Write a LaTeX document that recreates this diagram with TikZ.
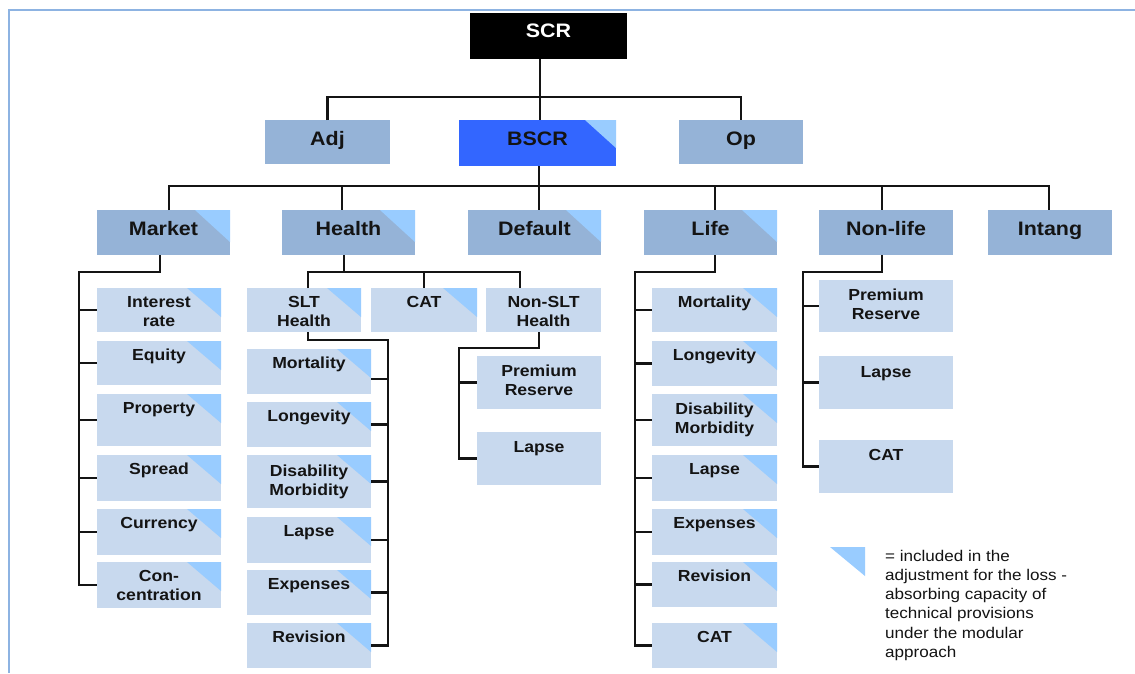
\documentclass[tikz,border=0pt]{standalone}
\usepackage{fontspec}
\setmainfont{Liberation Sans}[FakeStretch=1.1]
\usetikzlibrary{calc}
\definecolor{midblue}{RGB}{149,179,215}
\definecolor{lightblue}{RGB}{200,217,238}
\definecolor{tricol}{RGB}{153,204,255}
\definecolor{bscrblue}{RGB}{51,102,255}
\definecolor{framecol}{RGB}{141,179,226}
\definecolor{ink}{RGB}{20,20,20}

\tikzset{
  boxbase/.style={inner sep=0pt, outer sep=0pt, draw=none},
  topbox/.style={boxbase, fill=black},
  topbox text/.style={inner sep=0pt, text=white, font=\bfseries\fontsize{19.5}{22}\selectfont},
  midbox/.style={boxbase, fill=midblue},
  midbox text/.style={inner sep=0pt, text=ink, font=\bfseries\fontsize{19.5}{22}\selectfont},
  bscrbox/.style={boxbase, fill=bscrblue},
  bscrbox text/.style={inner sep=0pt, text=ink, font=\bfseries\fontsize{19.5}{22}\selectfont},
  leafbox/.style={boxbase, fill=lightblue},
  leafbox text/.style={inner sep=0pt, text=ink, font=\bfseries\fontsize{16}{19}\selectfont},
  legendtext/.style={inner sep=0pt, text=ink, font=\fontsize{15.5}{19.3}\selectfont},
  conn/.style={draw=ink, line width=2.4pt},
  trifill/.style={fill=tricol},
  framestyle/.style={draw=framecol, line width=2pt},
}

% #1 style, #2 name, #3 x1, #4 y1, #5 x2, #6 y2, #7 baseline offset, #8 text
\newcommand\bx[8]{%
  \node[#1, anchor=north west, minimum width={#5-#3}, minimum height={#6-#4}] (#2) at (#3,#4) {};
  \node[#1 text, anchor=base] (#2-t) at ([yshift=-#7]#2.north)
     {\parbox[t]{\dimexpr#5pt-#3pt\relax}{\centering #8}};
}
% triangle in the top right corner: #1 name, #2 width, #3 height
\newcommand\tri[3]{%
  \fill[trifill] ([xshift=-#2]#1.north east) -- (#1.north east) -- ([yshift=-#3]#1.north east) -- cycle;
}

\begin{document}
\begin{tikzpicture}[x=1pt,y=-1pt]
\useasboundingbox (0,0) rectangle (1135,673);
\fill[white] (0,0) rectangle (1135,673);
\draw[framestyle] (8.5,673) -- (8.5,9.5) -- (1135,9.5);

% ---------- boxes ----------
\bx{topbox}{SCR}{470}{13}{627}{59}{24}{SCR}
\bx{midbox}{Adj}{265}{120}{390}{164}{25}{Adj}
\bx{bscrbox}{BSCR}{459}{120}{616}{166}{25}{}
\tri{BSCR}{31}{28}
\node[bscrbox text, anchor=base] (BSCR-lbl) at ([yshift=-25]BSCR.north) {BSCR};
\bx{midbox}{Op}{679}{120}{803}{164}{25}{Op}

\bx{midbox}{Market}{97}{210}{230}{255}{25}{}
\tri{Market}{35}{32}
\node[midbox text, anchor=base] (Market-lbl) at ([yshift=-25]Market.north) {Market};
\bx{midbox}{Health}{282}{210}{415}{255}{25}{}
\tri{Health}{35}{32}
\node[midbox text, anchor=base] (Health-lbl) at ([yshift=-25]Health.north) {Health};
\bx{midbox}{Default}{468}{210}{601}{255}{25}{}
\tri{Default}{35}{32}
\node[midbox text, anchor=base] (Default-lbl) at ([yshift=-25]Default.north) {Default};
\bx{midbox}{Life}{644}{210}{777}{255}{25}{}
\tri{Life}{35}{32}
\node[midbox text, anchor=base] (Life-lbl) at ([yshift=-25]Life.north) {Life};
\bx{midbox}{NonLife}{819}{210}{953}{255}{25}{Non-life}
\bx{midbox}{Intang}{988}{210}{1112}{255}{25}{Intang}

% market leaves
\bx{leafbox}{IR}{97}{288}{221}{332}{19}{}
\bx{leafbox}{Eq}{97}{341}{221}{385}{19}{}
\bx{leafbox}{Prop}{97}{394}{221}{446}{19}{}
\bx{leafbox}{Spread}{97}{455}{221}{501}{19}{}
\bx{leafbox}{Cur}{97}{509}{221}{555}{19}{}
\bx{leafbox}{Conc}{97}{562}{221}{608}{19}{}
\foreach \n in {IR,Eq,Prop,Spread,Cur,Conc} {\tri{\n}{34}{29}}
\node[leafbox text, anchor=base] (IR-lbl) at ([yshift=-19]IR.north) {\parbox[t]{124pt}{\centering Interest\\rate}};
\node[leafbox text, anchor=base] (Eq-lbl) at ([yshift=-19]Eq.north) {Equity};
\node[leafbox text, anchor=base] (Prop-lbl) at ([yshift=-19]Prop.north) {Property};
\node[leafbox text, anchor=base] (Spread-lbl) at ([yshift=-19]Spread.north) {Spread};
\node[leafbox text, anchor=base] (Cur-lbl) at ([yshift=-19]Cur.north) {Currency};
\node[leafbox text, anchor=base] (Conc-lbl) at ([yshift=-19]Conc.north) {\parbox[t]{124pt}{\centering Con-\\centration}};

% health second level
\bx{leafbox}{SLT}{247}{288}{361}{332}{19}{}
\bx{leafbox}{HCAT}{371}{288}{477}{332}{19}{}
\tri{SLT}{34}{29}
\tri{HCAT}{34}{29}
\node[leafbox text, anchor=base] (SLT-lbl) at ([yshift=-19]SLT.north) {\parbox[t]{114pt}{\centering SLT\\Health}};
\node[leafbox text, anchor=base] (HCAT-lbl) at ([yshift=-19]HCAT.north) {CAT};
\bx{leafbox}{NSLT}{486}{288}{601}{332}{19}{Non-SLT\\Health}

% SLT leaves
\bx{leafbox}{HMort}{247}{349}{371}{394}{19}{}
\bx{leafbox}{HLong}{247}{402}{371}{447}{19}{}
\bx{leafbox}{HDis}{247}{455}{371}{508}{21}{}
\bx{leafbox}{HLapse}{247}{517}{371}{563}{19}{}
\bx{leafbox}{HExp}{247}{570}{371}{615}{19}{}
\bx{leafbox}{HRev}{247}{623}{371}{668}{19}{}
\foreach \n in {HMort,HLong,HDis,HLapse,HExp,HRev} {\tri{\n}{34}{29}}
\node[leafbox text, anchor=base] (HMort-lbl) at ([yshift=-19]HMort.north) {Mortality};
\node[leafbox text, anchor=base] (HLong-lbl) at ([yshift=-19]HLong.north) {Longevity};
\node[leafbox text, anchor=base] (HDis-lbl) at ([yshift=-21]HDis.north) {\parbox[t]{124pt}{\centering Disability\\Morbidity}};
\node[leafbox text, anchor=base] (HLapse-lbl) at ([yshift=-19]HLapse.north) {Lapse};
\node[leafbox text, anchor=base] (HExp-lbl) at ([yshift=-19]HExp.north) {Expenses};
\node[leafbox text, anchor=base] (HRev-lbl) at ([yshift=-19]HRev.north) {Revision};

% non-SLT leaves
\bx{leafbox}{NPR}{477}{356}{601}{409}{20}{Premium\\Reserve}
\bx{leafbox}{NLapse}{477}{432}{601}{485}{20}{Lapse}

% life leaves
\bx{leafbox}{LMort}{652}{288}{777}{332}{19}{}
\bx{leafbox}{LLong}{652}{341}{777}{386}{19}{}
\bx{leafbox}{LDis}{652}{394}{777}{446}{20}{}
\bx{leafbox}{LLapse}{652}{455}{777}{501}{19}{}
\bx{leafbox}{LExp}{652}{509}{777}{555}{19}{}
\bx{leafbox}{LRev}{652}{562}{777}{607}{19}{}
\bx{leafbox}{LCAT}{652}{623}{777}{668}{19}{}
\foreach \n in {LMort,LLong,LDis,LLapse,LExp,LRev,LCAT} {\tri{\n}{34}{29}}
\node[leafbox text, anchor=base] (LMort-lbl) at ([yshift=-19]LMort.north) {Mortality};
\node[leafbox text, anchor=base] (LLong-lbl) at ([yshift=-19]LLong.north) {Longevity};
\node[leafbox text, anchor=base] (LDis-lbl) at ([yshift=-20]LDis.north) {\parbox[t]{125pt}{\centering Disability\\Morbidity}};
\node[leafbox text, anchor=base] (LLapse-lbl) at ([yshift=-19]LLapse.north) {Lapse};
\node[leafbox text, anchor=base] (LExp-lbl) at ([yshift=-19]LExp.north) {Expenses};
\node[leafbox text, anchor=base] (LRev-lbl) at ([yshift=-19]LRev.north) {Revision};
\node[leafbox text, anchor=base] (LCAT-lbl) at ([yshift=-19]LCAT.north) {CAT};

% non-life leaves
\bx{leafbox}{NLPR}{819}{280}{953}{332}{20}{Premium\\Reserve}
\bx{leafbox}{NLLapse}{819}{356}{953}{409}{21}{Lapse}
\bx{leafbox}{NLCAT}{819}{440}{953}{493}{20}{CAT}

% ---------- connectors ----------
\coordinate (j1) at (540,97);
\draw[conn] (j1 |- SCR.south) -- (j1 |- BSCR.north);
\draw[conn] (Adj.north) |- (j1) -| (Op.north);

\coordinate (dM) at (169,186);
\coordinate (dH) at (342,186);
\coordinate (dD) at (539,186);
\coordinate (dL) at (715,186);
\coordinate (dN) at (882,186);
\coordinate (dI) at (1049,186);
\draw[conn] (dD |- BSCR.south) -- (dD);
\draw[conn] (dM |- Market.north) -- (dM) -- (dI) -- (dI |- Intang.north);
\draw[conn] (dH) -- (dH |- Health.north);
\draw[conn] (dD) -- (dD |- Default.north);
\draw[conn] (dL) -- (dL |- Life.north);
\draw[conn] (dN) -- (dN |- NonLife.north);

% market subtree
\coordinate (mA) at (160,272);
\coordinate (mB) at (79,272);
\draw[conn] (mA |- Market.south) -- (mA) -- (mB) |- (Conc.west);
\foreach \n in {IR,Eq,Prop,Spread,Cur} {\draw[conn] (mB |- \n.west) -- (\n.west);}

% health subtree
\coordinate (hA) at (344,272);
\coordinate (hL) at (308,272);
\coordinate (hR) at (520,272);
\draw[conn] (hA |- Health.south) -- (hA);
\draw[conn] (hL |- SLT.north) -- (hL) -- (hR) -- (hR |- NSLT.north);
\draw[conn] (HCAT.north |- hA) -- (HCAT.north);

% SLT subtree
\coordinate (sA) at (308,340);
\coordinate (sB) at (388,340);
\draw[conn] (sA |- SLT.south) -- (sA) -- (sB) |- (HRev.east);
\draw[conn] (sB |- 0,379) -- ([yshift=-7.5]HMort.east);
\foreach \n in {HLong,HDis,HLapse,HExp} {\draw[conn] (sB |- \n.east) -- (\n.east);}

% non-SLT subtree
\coordinate (nA) at (539,348);
\coordinate (nB) at (459,348);
\draw[conn] (nA |- NSLT.south) -- (nA) -- (nB) |- (NLapse.west);
\draw[conn] (nB |- NPR.west) -- (NPR.west);

% life subtree
\coordinate (lA) at (715,272);
\coordinate (lB) at (635,272);
\draw[conn] (lA |- Life.south) -- (lA) -- (lB) |- (LCAT.west);
\foreach \n in {LMort,LLong,LDis,LLapse,LExp,LRev} {\draw[conn] (lB |- \n.west) -- (\n.west);}

% non-life subtree
\coordinate (qA) at (882,272);
\coordinate (qB) at (803,272);
\draw[conn] (qA |- NonLife.south) -- (qA) -- (qB) |- (NLCAT.west);
\foreach \n in {NLPR,NLLapse} {\draw[conn] (qB |- \n.west) -- (\n.west);}

% ---------- legend ----------
\fill[trifill] (830,547) -- (865,547) -- (865,576) -- cycle;
\node[legendtext, anchor=base west] (legend) at (885,561)
  {\parbox[t]{250pt}{\raggedright = included in the\\adjustment for the loss -\\absorbing capacity of\\technical provisions\\under the modular\\approach}};
\end{tikzpicture}
\end{document}
